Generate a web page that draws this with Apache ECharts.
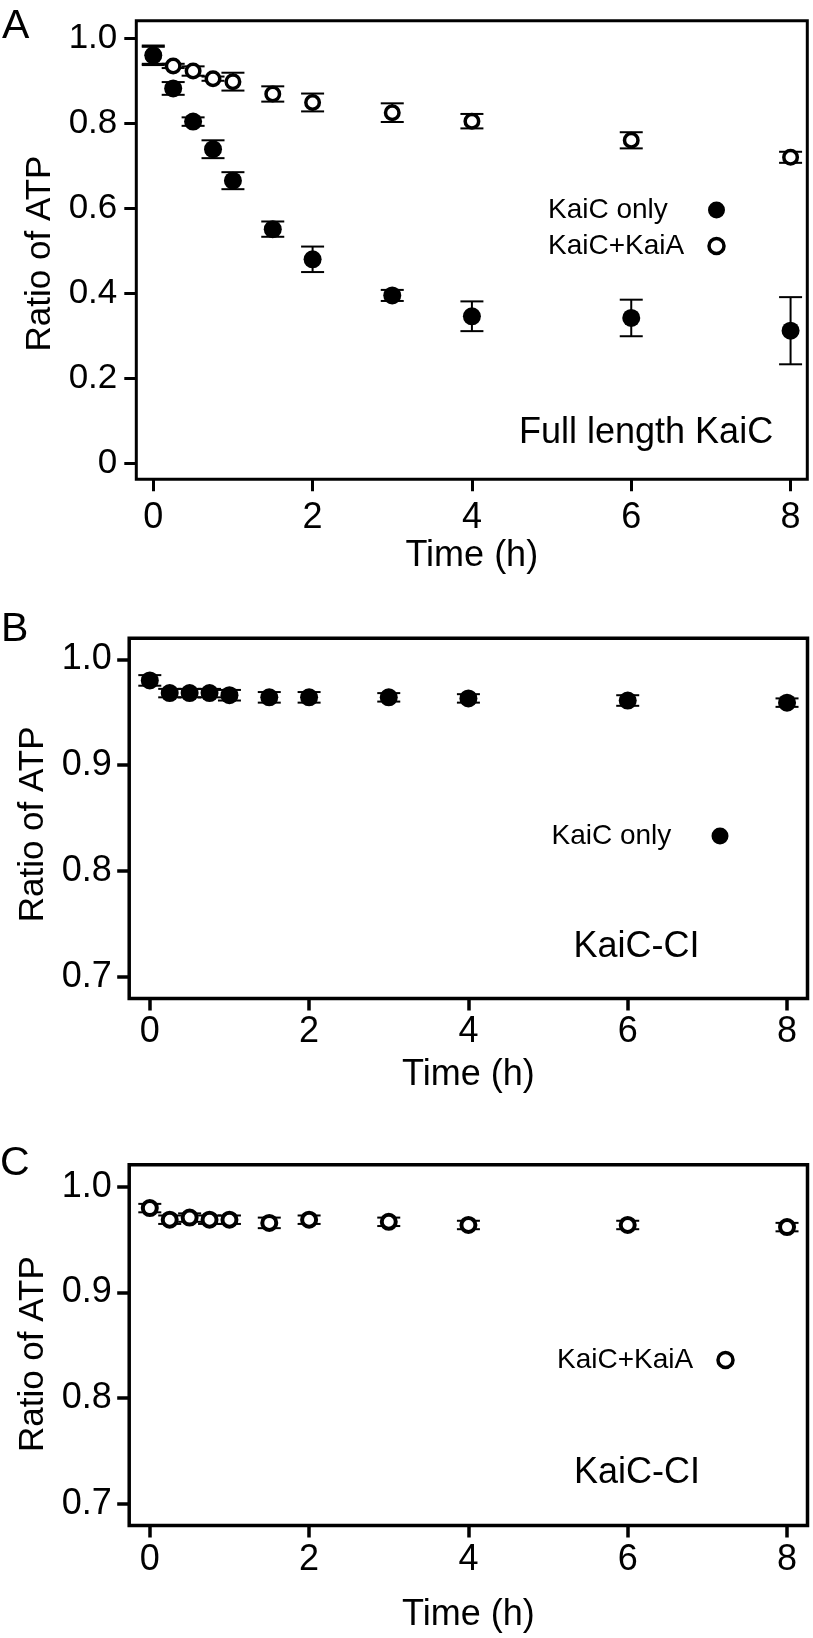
<!DOCTYPE html>
<html><head><meta charset="utf-8">
<script src="https://cdn.jsdelivr.net/npm/echarts@6/dist/echarts.min.js"></script>
<style>html,body{margin:0;padding:0;background:#fff}#c{width:813px;height:1638px}</style>
</head><body><div id="c"></div>
<script>
// ---------- data ----------
const times = [0, 0.25, 0.5, 0.75, 1, 1.5, 2, 3, 4, 6, 8];
// Panel A: full length KaiC
const kaicOnlyA     = [0.960, 0.882, 0.804, 0.739, 0.665, 0.551, 0.480, 0.395, 0.346, 0.342, 0.312];
const kaicOnlyErrA  = [0.023, 0.015, 0.010, 0.021, 0.020, 0.018, 0.030, 0.013, 0.035, 0.043, 0.079];
const kaicKaiaA     = [0.960, 0.935, 0.923, 0.905, 0.898, 0.869, 0.849, 0.825, 0.805, 0.760, 0.720];
const kaicKaiaErrA  = [0.020, 0.005, 0.011, 0.005, 0.021, 0.018, 0.021, 0.022, 0.017, 0.019, 0.013];
// Panel B: KaiC-CI, KaiC only
const kaicOnlyB     = [0.980, 0.968, 0.968, 0.968, 0.966, 0.964, 0.964, 0.964, 0.963, 0.961, 0.959];
const kaicOnlyErrB  = [0.005, 0.004, 0.004, 0.004, 0.005, 0.005, 0.005, 0.004, 0.004, 0.005, 0.004];
// Panel C: KaiC-CI, KaiC+KaiA
const kaicKaiaC     = [0.980, 0.969, 0.971, 0.969, 0.969, 0.966, 0.969, 0.967, 0.964, 0.964, 0.962];
const kaicKaiaErrC  = [0.004, 0.004, 0.004, 0.004, 0.004, 0.005, 0.004, 0.004, 0.004, 0.004, 0.004];
// ticks
const xTicks = [0, 2, 4, 6, 8];
const xTickLabels = ['0', '2', '4', '6', '8'];
const yTicksA = [0, 0.2, 0.4, 0.6, 0.8, 1.0];
const yTickLabelsA = ['0', '0.2', '0.4', '0.6', '0.8', '1.0'];
const yTicksBC = [0.7, 0.8, 0.9, 1.0];
const yTickLabelsBC = ['0.7', '0.8', '0.9', '1.0'];
const seriesNames = ['KaiC only', 'KaiC+KaiA'];
const panelLetters = ['A', 'B', 'C'];
const panelNotes = ['Full length KaiC', 'KaiC-CI', 'KaiC-CI'];
const xName = 'Time (h)';
const yName = 'Ratio of ATP';

// ---------- helpers ----------
const FONT = '"Liberation Sans", Arial, Helvetica, sans-serif';
function lookup(ticks, labels) {
  return function (v) {
    for (let i = 0; i < ticks.length; i++) if (Math.abs(ticks[i] - v) < 1e-6) return labels[i];
    return '';
  };
}
function xAxisDef(gi, min, max, fs, margin, nameGap, tw) {
  return {
    type: 'value', gridIndex: gi, min: min, max: max,
    name: xName, nameLocation: 'middle', nameGap: nameGap,
    nameTextStyle: { color: '#000', fontSize: fs, fontFamily: FONT, lineHeight: fs },
    axisLine: { show: false, onZero: false },
    axisTick: { show: true, customValues: xTicks, length: 12, lineStyle: { color: '#000', width: tw } },
    axisLabel: { customValues: xTicks, formatter: lookup(xTicks, xTickLabels), color: '#000',
      fontSize: fs, fontFamily: FONT, margin: margin, lineHeight: fs },
    splitLine: { show: false }
  };
}
function yAxisDef(gi, min, max, ticks, labels, fs, margin, nameGap, pad, tw) {
  return {
    type: 'value', gridIndex: gi, min: min, max: max,
    name: yName, nameLocation: 'middle', nameGap: nameGap,
    nameTextStyle: { color: '#000', fontSize: 35, fontFamily: FONT, lineHeight: 35, padding: [0, pad, 0, 0] },
    axisLine: { show: false, onZero: false },
    axisTick: { show: true, customValues: ticks, length: 12, lineStyle: { color: '#000', width: tw } },
    axisLabel: { customValues: ticks, formatter: lookup(ticks, labels), color: '#000',
      fontSize: fs, fontFamily: FONT, margin: margin, lineHeight: fs },
    splitLine: { show: false }
  };
}
function errSeries(name, idx, vals, errs) {
  return {
    type: 'custom', name: name, xAxisIndex: idx, yAxisIndex: idx, silent: true, z: 2,
    data: times.map((t, i) => [t, vals[i] - errs[i], vals[i] + errs[i]]),
    renderItem: function (params, api) {
      const lo = api.coord([api.value(0), api.value(1)]);
      const hi = api.coord([api.value(0), api.value(2)]);
      const hw = 11.5;
      const st = { stroke: '#000', lineWidth: 2, fill: null };
      return { type: 'group', children: [
        { type: 'line', shape: { x1: lo[0], y1: lo[1], x2: hi[0], y2: hi[1] }, style: st },
        { type: 'line', shape: { x1: lo[0] - hw, y1: lo[1], x2: lo[0] + hw, y2: lo[1] }, style: st },
        { type: 'line', shape: { x1: hi[0] - hw, y1: hi[1], x2: hi[0] + hw, y2: hi[1] }, style: st }
      ]};
    }
  };
}
function filledSeries(idx, vals) {
  return { type: 'scatter', name: seriesNames[0], xAxisIndex: idx, yAxisIndex: idx, z: 4,
    symbol: 'circle', symbolSize: 18, itemStyle: { color: '#000', opacity: 1 },
    emphasis: { disabled: true }, data: times.map((t, i) => [t, vals[i]]) };
}
function openSeries(idx, vals, size, bw) {
  return { type: 'scatter', name: seriesNames[1], xAxisIndex: idx, yAxisIndex: idx, z: 3,
    symbol: 'circle', symbolSize: size, itemStyle: { color: '#fff', borderColor: '#000', borderWidth: bw, opacity: 1 },
    emphasis: { disabled: true }, data: times.map((t, i) => [t, vals[i]]) };
}
function legendDef(left, top, names) {
  const items = names.map(n => n === seriesNames[0]
    ? { name: n, icon: 'circle', itemStyle: { color: '#000', borderColor: '#000', borderWidth: 2 } }
    : { name: n, icon: 'circle', itemStyle: { color: '#fff', borderColor: '#000', borderWidth: 3.5 } });
  return {
    orient: 'vertical', left: left, top: top, padding: 0, itemGap: 8, align: 'right',
    itemWidth: 15, itemHeight: 15, selectedMode: false, data: items,
    formatter: '{a|{name}}',
    textStyle: { rich: { a: { width: 156, align: 'left', fontSize: 28, lineHeight: 30, fontFamily: FONT, color: '#000' } } }
  };
}
function txt(x, y, s, fs) {
  return { type: 'text', x: x, y: y, silent: true,
    style: { text: s, fontSize: fs, fontFamily: FONT, fill: '#000', align: 'left', verticalAlign: 'middle' } };
}

const option = {
  animation: false,
  backgroundColor: '#fff',
  grid: [
    { left: 136.3, top: 20.7, width: 671, height: 458.6, show: true, borderColor: '#000', borderWidth: 3, backgroundColor: 'transparent', containLabel: false },
    { left: 129.2, top: 638.3, width: 678.3, height: 360.2, show: true, borderColor: '#000', borderWidth: 3.5, backgroundColor: 'transparent', containLabel: false },
    { left: 129.2, top: 1164.8, width: 678.3, height: 360.7, show: true, borderColor: '#000', borderWidth: 3.5, backgroundColor: 'transparent', containLabel: false }
  ],
  xAxis: [
    xAxisDef(0, -0.213, 8.21, 36, 20.7, 59, 3),
    xAxisDef(1, -0.2586, 8.257, 36, 15.5, 58.5, 3.5),
    xAxisDef(2, -0.2586, 8.257, 36, 16.5, 71.5, 3.5)
  ],
  yAxis: [
    yAxisDef(0, -0.0376, 1.0414, yTicksA, yTickLabelsA, 35, 19, 77, 7, 3),
    yAxisDef(1, 0.6794, 1.0198, yTicksBC, yTickLabelsBC, 36, 17.5, 74.7, 12, 3.5),
    yAxisDef(2, 0.6794, 1.021, yTicksBC, yTickLabelsBC, 36, 17.5, 74.7, 18, 3.5)
  ],
  legend: [
    legendDef(548, 196, seriesNames),
    legendDef(551.5, 822, [seriesNames[0]]),
    legendDef(557, 1346, [seriesNames[1]])
  ],
  graphic: [
    txt(2, 27, panelLetters[0], 41),
    txt(1, 630, panelLetters[1], 41),
    txt(0, 1163.5, panelLetters[2], 41),
    txt(519, 433.5, panelNotes[0], 36),
    txt(573.5, 947.4, panelNotes[1], 36),
    txt(574, 1473, panelNotes[2], 36)
  ],
  series: [
    errSeries('err KaiC+KaiA A', 0, kaicKaiaA, kaicKaiaErrA),
    errSeries('err KaiC only A', 0, kaicOnlyA, kaicOnlyErrA),
    openSeries(0, kaicKaiaA, 13.5, 3.5),
    filledSeries(0, kaicOnlyA),
    errSeries('err KaiC only B', 1, kaicOnlyB, kaicOnlyErrB),
    filledSeries(1, kaicOnlyB),
    errSeries('err KaiC+KaiA C', 2, kaicKaiaC, kaicKaiaErrC),
    openSeries(2, kaicKaiaC, 14, 4)
  ]
};
const chart = echarts.init(document.getElementById('c'), null, { renderer: 'canvas' });
chart.setOption(option);
</script>
</body></html>
